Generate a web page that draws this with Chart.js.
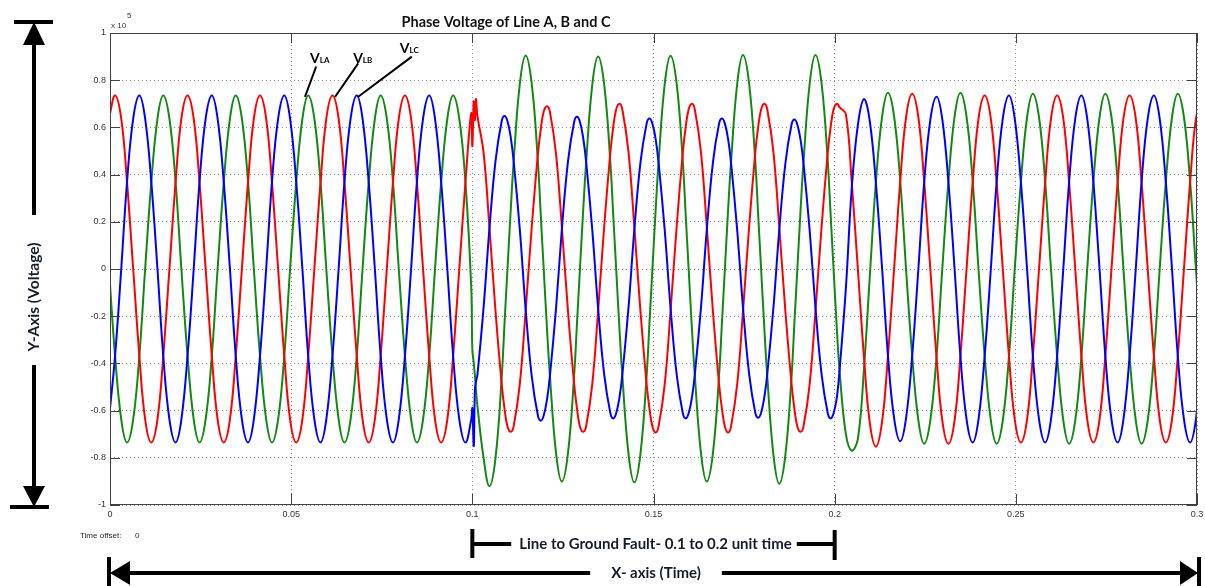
<!DOCTYPE html>
<html>
<head>
<meta charset="utf-8">
<title>Phase Voltage of Line A, B and C</title>
<script src="https://cdn.jsdelivr.net/npm/chart.js@4.4.0/dist/chart.umd.min.js"></script>
<style>
  html, body { margin: 0; padding: 0; background: #fff; }
  #wrap { width: 1205px; height: 586px; }
</style>
</head>
<body>
<div id="wrap"><canvas id="myChart" width="1205" height="586"></canvas></div>
<script>
// time (s), read every 30 deg of the 50 Hz wave; during the fault also at the shifted peaks
var times = [
  -0.0003,
  0.0014, 0.0031, 0.0047, 0.0064, 0.0081, 0.0097, 0.0114, 0.0131, 0.0147, 0.0164, 0.0181, 0.0197,
  0.0214, 0.0231, 0.0247, 0.0264, 0.0281, 0.0297, 0.0314, 0.0331, 0.0347, 0.0364, 0.0381, 0.0397,
  0.0414, 0.0431, 0.0447, 0.0464, 0.0481, 0.0497, 0.0514, 0.0531, 0.0547, 0.0564, 0.0581, 0.0597,
  0.0614, 0.0631, 0.0647, 0.0664, 0.0681, 0.0697, 0.0714, 0.0731, 0.0747, 0.0764, 0.0781, 0.0797,
  0.0814, 0.0831, 0.0847, 0.0864, 0.0881, 0.0897, 0.0914, 0.0931, 0.0947, 0.0964, 0.0981, 0.0997,
  0.1000, 0.1004, 0.1007, 0.1010,
  0.1014, 0.1031, 0.1047, 0.1064, 0.1081, 0.1089, 0.1097, 0.1106, 0.1114, 0.1131, 0.1147, 0.1164, 0.1181, 0.1189, 0.1197, 0.1206,
  0.1214, 0.1231, 0.1247, 0.1264, 0.1281, 0.1289, 0.1297, 0.1306, 0.1314, 0.1331, 0.1347, 0.1364, 0.1381, 0.1389, 0.1397, 0.1406,
  0.1414, 0.1431, 0.1447, 0.1464, 0.1481, 0.1489, 0.1497, 0.1506, 0.1514, 0.1531, 0.1547, 0.1564, 0.1581, 0.1589, 0.1597, 0.1606,
  0.1614, 0.1631, 0.1647, 0.1664, 0.1681, 0.1689, 0.1697, 0.1706, 0.1714, 0.1731, 0.1747, 0.1764, 0.1781, 0.1789, 0.1797, 0.1806,
  0.1814, 0.1831, 0.1847, 0.1864, 0.1881, 0.1889, 0.1897, 0.1906, 0.1914, 0.1931, 0.1947, 0.1964, 0.1981, 0.1989, 0.1997, 0.2006,
  0.2014, 0.2031, 0.2047, 0.2064, 0.2081, 0.2097, 0.2114, 0.2131, 0.2147, 0.2164, 0.2181, 0.2197,
  0.2214, 0.2231, 0.2247, 0.2264, 0.2281, 0.2297, 0.2314, 0.2331, 0.2347, 0.2364, 0.2381, 0.2397,
  0.2414, 0.2431, 0.2447, 0.2464, 0.2481, 0.2497, 0.2514, 0.2531, 0.2547, 0.2564, 0.2581, 0.2597,
  0.2614, 0.2631, 0.2647, 0.2664, 0.2681, 0.2697, 0.2714, 0.2731, 0.2747, 0.2764, 0.2781, 0.2797,
  0.2814, 0.2831, 0.2847, 0.2864, 0.2881, 0.2897, 0.2914, 0.2931, 0.2947, 0.2964, 0.2981, 0.2997,
  0.3014
];

// phase voltages (x 10^5)
var lineA = [ // green
  0,
  -0.368, -0.637, -0.735, -0.637, -0.368, 0, 0.368, 0.637, 0.735, 0.637, 0.368, 0,
  -0.368, -0.637, -0.735, -0.637, -0.368, 0, 0.368, 0.637, 0.735, 0.637, 0.368, 0,
  -0.368, -0.637, -0.735, -0.637, -0.368, 0, 0.368, 0.637, 0.735, 0.637, 0.368, 0,
  -0.368, -0.637, -0.735, -0.637, -0.368, 0, 0.368, 0.637, 0.735, 0.637, 0.368, 0,
  -0.368, -0.637, -0.735, -0.637, -0.368, 0, 0.368, 0.637, 0.735, 0.637, 0.368, -0.08,
  -0.34, -0.40, -0.45, -0.51,
  -0.58, -0.80, -0.92, -0.80, -0.46, -0.225, 0, 0.252, 0.453, 0.784, 0.905, 0.784, 0.453, 0.225, 0, -0.252,
  -0.45, -0.78, -0.90, -0.78, -0.45, -0.225, 0, 0.25, 0.45, 0.78, 0.90, 0.78, 0.45, 0.225, 0, -0.252,
  -0.452, -0.783, -0.904, -0.783, -0.452, -0.225, 0, 0.252, 0.453, 0.784, 0.904, 0.784, 0.453, 0.225, 0, -0.252,
  -0.45, -0.78, -0.90, -0.78, -0.45, -0.225, 0, 0.253, 0.454, 0.785, 0.907, 0.785, 0.454, 0.226, 0, -0.254,
  -0.455, -0.788, -0.91, -0.788, -0.455, -0.225, 0, 0.253, 0.454, 0.785, 0.907, 0.785, 0.454, 0.226, 0, -0.254,
  -0.44, -0.70, -0.77, -0.72, -0.42, -0.03, 0.373, 0.647, 0.747, 0.647, 0.373, 0,
  -0.37, -0.641, -0.74, -0.641, -0.373, 0, 0.373, 0.647, 0.747, 0.645, 0.371, 0,
  -0.37, -0.641, -0.74, -0.641, -0.37, 0, 0.37, 0.643, 0.743, 0.643, 0.37, 0,
  -0.37, -0.641, -0.74, -0.641, -0.37, 0, 0.37, 0.643, 0.743, 0.643, 0.37, 0,
  -0.37, -0.641, -0.74, -0.641, -0.37, 0, 0.37, 0.643, 0.743, 0.643, 0.37, 0,
  -0.37
];

var lineB = [ // red
  0.637,
  0.735, 0.637, 0.368, 0, -0.368, -0.637, -0.735, -0.637, -0.368, 0, 0.368, 0.637,
  0.735, 0.637, 0.368, 0, -0.368, -0.637, -0.735, -0.637, -0.368, 0, 0.368, 0.637,
  0.735, 0.637, 0.368, 0, -0.368, -0.637, -0.735, -0.637, -0.368, 0, 0.368, 0.637,
  0.735, 0.637, 0.368, 0, -0.368, -0.637, -0.735, -0.637, -0.368, 0, 0.368, 0.637,
  0.735, 0.637, 0.368, 0, -0.368, -0.637, -0.735, -0.637, -0.368, 0, 0.368, 0.66,
  0.52, 0.71, 0.63, 0.72,
  0.65, 0.493, 0.181, -0.179, -0.488, -0.594, -0.667, -0.69, -0.667, -0.488, -0.179, 0.178, 0.488, 0.594, 0.667, 0.69,
  0.667, 0.488, 0.179, -0.179, -0.488, -0.594, -0.667, -0.69, -0.667, -0.488, -0.179, 0.181, 0.495, 0.603, 0.676, 0.70,
  0.676, 0.495, 0.181, -0.179, -0.488, -0.594, -0.667, -0.693, -0.667, -0.488, -0.179, 0.181, 0.495, 0.603, 0.676, 0.70,
  0.676, 0.495, 0.181, -0.179, -0.488, -0.594, -0.667, -0.693, -0.667, -0.488, -0.179, 0.181, 0.495, 0.603, 0.676, 0.70,
  0.676, 0.495, 0.181, -0.179, -0.488, -0.594, -0.667, -0.69, -0.667, -0.488, -0.179, 0.181, 0.495, 0.603, 0.676, 0.70,
  0.685, 0.655, 0.37, 0, -0.376, -0.652, -0.753, -0.645, -0.37, 0, 0.372, 0.643,
  0.743, 0.643, 0.371, 0, -0.37, -0.641, -0.74, -0.641, -0.37, 0, 0.368, 0.637,
  0.735, 0.637, 0.368, 0, -0.368, -0.637, -0.735, -0.637, -0.368, 0, 0.368, 0.637,
  0.735, 0.637, 0.368, 0, -0.368, -0.637, -0.735, -0.637, -0.368, 0, 0.368, 0.637,
  0.735, 0.637, 0.368, 0, -0.368, -0.637, -0.735, -0.637, -0.368, 0, 0.368, 0.637,
  0.735
];

var lineC = [ // blue
  -0.637,
  -0.368, 0, 0.368, 0.637, 0.735, 0.637, 0.368, 0, -0.368, -0.637, -0.735, -0.637,
  -0.368, 0, 0.368, 0.637, 0.735, 0.637, 0.368, 0, -0.368, -0.637, -0.735, -0.637,
  -0.368, 0, 0.368, 0.637, 0.735, 0.637, 0.368, 0, -0.368, -0.637, -0.735, -0.637,
  -0.368, 0, 0.368, 0.637, 0.735, 0.637, 0.368, 0, -0.368, -0.637, -0.735, -0.637,
  -0.368, 0, 0.368, 0.637, 0.735, 0.637, 0.368, 0, -0.368, -0.637, -0.735, -0.637,
  -0.59, -0.75, -0.515, -0.478,
  -0.449, -0.164, 0.168, 0.458, 0.626, 0.648, 0.626, 0.558, 0.458, 0.168, -0.167, -0.455, -0.621, -0.643, -0.621, -0.554,
  -0.455, -0.167, 0.167, 0.456, 0.623, 0.645, 0.623, 0.555, 0.456, 0.167, -0.164, -0.448, -0.611, -0.633, -0.611, -0.545,
  -0.448, -0.164, 0.165, 0.451, 0.616, 0.638, 0.616, 0.549, 0.451, 0.165, -0.164, -0.448, -0.611, -0.633, -0.611, -0.545,
  -0.448, -0.164, 0.165, 0.451, 0.616, 0.638, 0.616, 0.549, 0.451, 0.165, -0.163, -0.445, -0.609, -0.63, -0.609, -0.542,
  -0.445, -0.163, 0.164, 0.448, 0.612, 0.634, 0.612, 0.546, 0.448, 0.164, -0.164, -0.448, -0.611, -0.633, -0.611, -0.545,
  -0.42, -0.08, 0.34, 0.61, 0.72, 0.625, 0.36, 0, -0.365, -0.632, -0.73, -0.632,
  -0.367, 0, 0.366, 0.632, 0.73, 0.635, 0.367, 0, -0.368, -0.637, -0.735, -0.637,
  -0.368, 0, 0.368, 0.637, 0.735, 0.637, 0.368, 0, -0.368, -0.637, -0.735, -0.637,
  -0.368, 0, 0.368, 0.637, 0.735, 0.637, 0.368, 0, -0.368, -0.637, -0.735, -0.637,
  -0.368, 0, 0.368, 0.637, 0.735, 0.637, 0.368, 0, -0.368, -0.637, -0.735, -0.637,
  -0.368
];

var xTicks = { min: 0, max: 0.3, step: 0.05 };
var yTicks = { min: -1, max: 1, step: 0.2 };

function toPoints(values) {
  var pts = [];
  for (var i = 0; i < times.length; i++) {
    pts.push({ x: times[i], y: values[i] });
  }
  return pts;
}

function line(ctx, x1, y1, x2, y2) {
  ctx.beginPath();
  ctx.moveTo(x1, y1);
  ctx.lineTo(x2, y2);
  ctx.stroke();
}

function tri(ctx, x1, y1, x2, y2, x3, y3) {
  ctx.beginPath();
  ctx.moveTo(x1, y1);
  ctx.lineTo(x2, y2);
  ctx.lineTo(x3, y3);
  ctx.closePath();
  ctx.fill();
}

var labelFont = 'bold 15px Lato, "Open Sans", sans-serif';

// matlab box, inward ticks, labels and the hand drawn arrows
var decorations = {
  id: 'decorations',
  afterDraw: function (chart) {
    var ctx = chart.ctx;
    var area = chart.chartArea;
    var xs = chart.scales.x;
    var ys = chart.scales.y;
    ctx.save();

    ctx.strokeStyle = '#404040';
    ctx.lineWidth = 1;
    ctx.strokeRect(area.left + 0.5, area.top + 0.5, area.width - 1, area.height - 1);
    ctx.beginPath();
    xs.ticks.forEach(function (t) {
      var px = Math.round(xs.getPixelForValue(t.value)) + 0.5;
      ctx.moveTo(px, area.bottom); ctx.lineTo(px, area.bottom - 11);
      ctx.moveTo(px, area.top); ctx.lineTo(px, area.top + 10);
    });
    ys.ticks.forEach(function (t) {
      var py = Math.round(ys.getPixelForValue(t.value)) + 0.5;
      ctx.moveTo(area.left, py); ctx.lineTo(area.left + 10, py);
      ctx.moveTo(area.right, py); ctx.lineTo(area.right - 10, py);
    });
    ctx.stroke();

    ctx.fillStyle = '#333';
    ctx.font = '8px "Liberation Sans", Arial, sans-serif';
    ctx.textAlign = 'left';
    ctx.textBaseline = 'alphabetic';
    ctx.fillText('x 10', area.left + 1, area.top - 5);
    ctx.fillText('5', area.left + 17, area.top - 15);
    ctx.fillStyle = '#222';
    ctx.fillText('Time offset:', 80, 538);
    ctx.fillText('0', 135, 538);

    ctx.fillStyle = '#111';
    ctx.font = 'bold 14.5px Lato, "Open Sans", sans-serif';
    ctx.textAlign = 'center';
    ctx.textBaseline = 'middle';
    ctx.fillText('Phase Voltage of Line A, B and C', 506, 22);

    // phase tags with leader lines
    var tags = [
      { name: 'LA', tx: 0.0552, ty: 0.873, from: [0.0569, 0.858], to: [0.0538, 0.729] },
      { name: 'LB', tx: 0.0671, ty: 0.873, from: [0.0685, 0.871], to: [0.0621, 0.729] },
      { name: 'LC', tx: 0.0800, ty: 0.915, from: [0.0833, 0.900], to: [0.0685, 0.730] }
    ];
    ctx.strokeStyle = '#000';
    ctx.fillStyle = '#000';
    ctx.lineWidth = 2;
    ctx.textAlign = 'left';
    ctx.textBaseline = 'alphabetic';
    tags.forEach(function (g) {
      var px = xs.getPixelForValue(g.tx);
      var py = ys.getPixelForValue(g.ty);
      ctx.font = 'bold 14px Lato, "Open Sans", sans-serif';
      ctx.fillText('V', px, py);
      var w = ctx.measureText('V').width;
      ctx.font = 'bold 8px Lato, "Open Sans", sans-serif';
      ctx.fillText(g.name, px + w, py);
      line(ctx, xs.getPixelForValue(g.from[0]), ys.getPixelForValue(g.from[1]),
        xs.getPixelForValue(g.to[0]), ys.getPixelForValue(g.to[1]));
    });

    // y axis arrow
    ctx.lineWidth = 4;
    line(ctx, 14, 22, 53, 22);
    tri(ctx, 34, 22, 23, 45, 45, 45);
    line(ctx, 34, 44, 34, 215);
    line(ctx, 34, 365, 34, 488);
    tri(ctx, 34, 507, 23, 486, 45, 486);
    line(ctx, 10, 507, 49, 507);
    ctx.save();
    ctx.translate(34, 297);
    ctx.rotate(-Math.PI / 2);
    ctx.font = 'bold 15.5px Lato, "Open Sans", sans-serif';
    ctx.textAlign = 'center';
    ctx.textBaseline = 'middle';
    ctx.fillStyle = '#141c2c';
    ctx.fillText('Y-Axis (Voltage)', 0, 0);
    ctx.restore();

    // x axis arrow
    ctx.font = labelFont;
    var xl = 'X- axis (Time)';
    var xw = ctx.measureText(xl).width;
    var xc = 656;
    line(ctx, 109, 557, 109, 586);
    tri(ctx, 110, 573, 130, 561, 130, 585);
    line(ctx, 129, 573, xc - xw / 2 - 21, 573);
    line(ctx, xc + xw / 2 + 21, 573, 1181, 573);
    tri(ctx, 1198, 573, 1180, 561, 1180, 585);
    line(ctx, 1199, 557, 1199, 586);
    ctx.textAlign = 'center';
    ctx.textBaseline = 'middle';
    ctx.fillStyle = '#141c2c';
    ctx.fillText(xl, xc, 573);

    // fault span bracket
    var f1 = xs.getPixelForValue(0.1);
    var f2 = xs.getPixelForValue(0.2);
    var fl = 'Line to Ground Fault- 0.1 to 0.2 unit time';
    var fw = ctx.measureText(fl).width;
    var fc = (f1 + f2) / 2 + 2;
    line(ctx, f1, 529, f1, 558);
    line(ctx, f1, 544, fc - fw / 2 - 8, 544);
    line(ctx, fc + fw / 2 + 5, 544, f2, 544);
    line(ctx, f2, 530, f2, 560);
    ctx.fillText(fl, fc, 544);

    ctx.restore();
  }
};

Chart.defaults.font.family = '"Liberation Sans", Arial, sans-serif';
Chart.defaults.font.size = 9;
Chart.defaults.color = '#333';

function createChart() {
  var ctx = document.getElementById('myChart').getContext('2d');
  new Chart(ctx, {
    type: 'line',
    data: {
      datasets: [
        { label: 'V LC', data: toPoints(lineC), borderColor: '#0000ff' },
        { label: 'V LB', data: toPoints(lineB), borderColor: '#ff0000' },
        { label: 'V LA', data: toPoints(lineA), borderColor: '#108a10' }
      ]
    },
    options: {
      responsive: false,
      animation: false,
      layout: { padding: { top: 33, right: 8, left: 0, bottom: 0 } },
      plugins: { legend: { display: false }, tooltip: { enabled: false } },
      elements: {
        point: { radius: 0 },
        line: { borderWidth: 2, tension: 0.4, fill: false }
      },
      scales: {
        x: {
          type: 'linear',
          min: xTicks.min,
          max: xTicks.max,
          ticks: {
            stepSize: xTicks.step,
            padding: 4,
            maxRotation: 0,
            callback: function (v) { return String(+v.toFixed(2)); }
          },
          grid: { color: '#8c8c8c', lineWidth: 1, drawTicks: false },
          border: { display: false, dash: [1, 3] },
          afterFit: function (s) { s.height = 81; s.paddingLeft = 0; s.paddingRight = 0; }
        },
        y: {
          min: yTicks.min,
          max: yTicks.max,
          ticks: {
            stepSize: yTicks.step,
            padding: 4,
            callback: function (v) { return String(+v.toFixed(1)); }
          },
          grid: { color: '#8c8c8c', lineWidth: 1, drawTicks: false },
          border: { display: false, dash: [1, 3] },
          afterFit: function (s) { s.width = 110; s.paddingTop = 0; s.paddingBottom = 0; }
        }
      }
    },
    plugins: [decorations]
  });
}
createChart();
</script>
</body>
</html>
